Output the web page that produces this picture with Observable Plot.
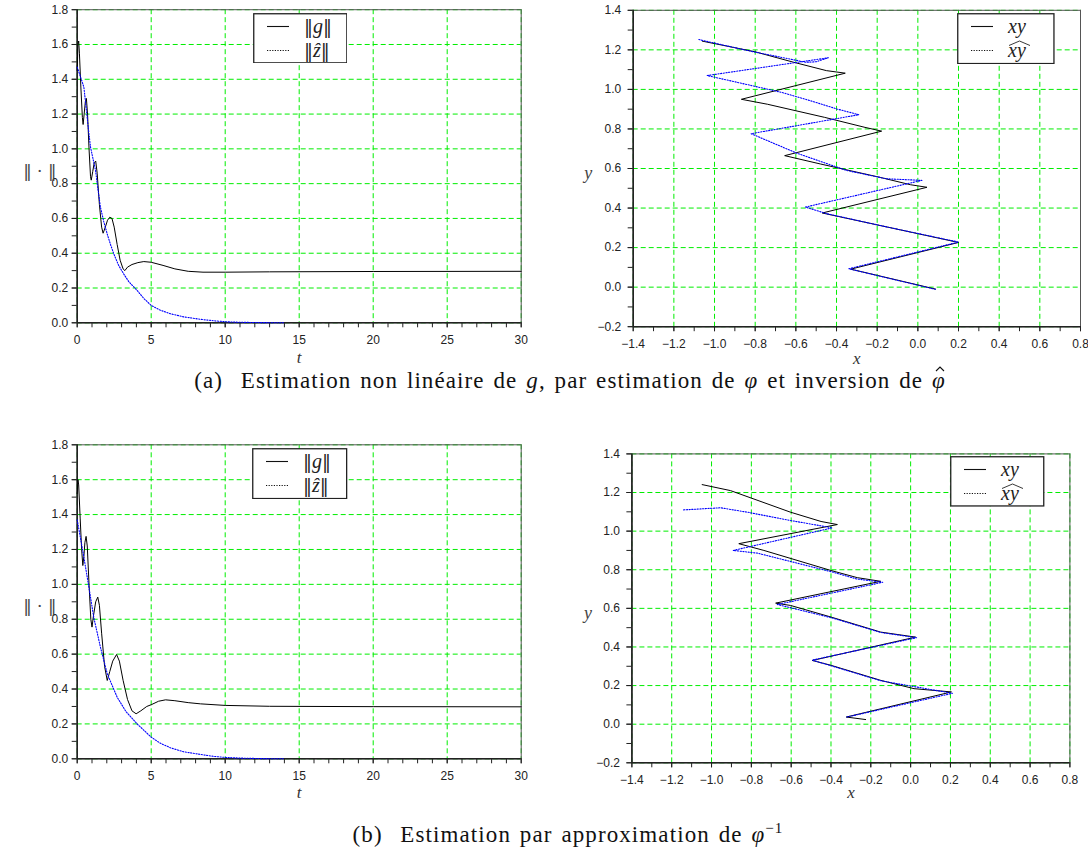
<!DOCTYPE html>
<html><head><meta charset="utf-8">
<script src="https://cdn.jsdelivr.net/npm/d3@7"></script>
<script src="https://cdn.jsdelivr.net/npm/@observablehq/plot@0.6"></script>
<style>
body{margin:0;background:#fff}
#fig{position:relative;width:1088px;height:851px;overflow:hidden;background:#fff}
#fig > svg, #fig > div{position:absolute}
.cap{font-family:"Liberation Serif","DejaVu Serif",serif;font-size:23px;letter-spacing:1.1px;word-spacing:2px;color:#111;width:1088px;text-align:center;line-height:26px;white-space:nowrap}
.cap i{font-style:italic}
.hat{position:relative;display:inline-block}
.hat > svg{position:absolute;left:3px;top:-2px}
</style></head><body><div id="fig"></div>
<script>
// ---- (a) nonlinear estimation: norms over time ----
const tG_a = [0,0.05,0.1,0.15,0.25,0.35,0.4,0.47,0.55,0.62,0.7,0.8,0.9,0.95,1.05,1.15,1.25,1.35,1.5,1.65,1.75,1.9,2.05,2.2,2.35,2.5,2.7,2.9,3.1,3.22,3.4,3.7,4.1,4.5,5.0,5.8,6.6,7.5,8.5,10,13,20,30];
const g_a  = [1.45,1.6,1.62,1.55,1.35,1.18,1.14,1.2,1.27,1.29,1.2,1.0,0.84,0.82,0.87,0.92,0.93,0.86,0.68,0.55,0.515,0.55,0.59,0.607,0.6,0.55,0.45,0.36,0.31,0.30,0.32,0.335,0.346,0.352,0.348,0.33,0.31,0.296,0.291,0.291,0.293,0.295,0.296];
const tZ_a = [0,0.2,0.45,0.6,0.75,0.9,1.05,1.24,1.4,1.57,1.8,2.03,2.25,2.47,2.8,3.15,3.5,4.05,4.5,5,5.6,6.3,7.2,8.33,9.2,10,11,12.5,14];
const z_a  = [1.47,1.42,1.355,1.24,1.12,1.01,0.95,0.876,0.77,0.665,0.58,0.51,0.45,0.397,0.33,0.28,0.235,0.186,0.14,0.10,0.073,0.052,0.034,0.02,0.012,0.006,0.003,0.001,0];

// ---- (a) trajectories in the plane ----
const xyX_a    = [-1.06,-0.8,-0.61,-0.45,-0.357,-0.868,-0.74,-0.46,-0.26,-0.178,-0.655,-0.48,-0.185,-0.037,0.045,-0.47,0.2,-0.33,0.087];
const xyY_a    = [1.244,1.19,1.137,1.095,1.082,0.95,0.925,0.859,0.808,0.789,0.665,0.623,0.555,0.518,0.505,0.375,0.226,0.091,-0.01];
const xyHatX_a = [-1.077,-0.84,-0.55,-0.5,-0.44,-1.036,-0.67,-0.529,-0.398,-0.29,-0.82,-0.594,-0.35,-0.155,0.02,-0.553,-0.45,-0.178,0.2,-0.34,0.09];
const xyHatY_a = [1.252,1.197,1.137,1.14,1.16,1.07,0.985,0.943,0.901,0.872,0.776,0.677,0.59,0.548,0.54,0.405,0.372,0.31,0.228,0.093,-0.012];

// ---- (b) estimation through an approximate inverse: norms ----
const tG_b = [0,0.05,0.1,0.2,0.3,0.38,0.45,0.52,0.6,0.68,0.8,0.92,1.0,1.1,1.25,1.39,1.5,1.65,1.85,2.03,2.2,2.4,2.66,2.85,3.1,3.4,3.7,3.98,4.3,4.7,5.0,5.5,5.97,6.6,7.5,8.33,10,13,20,30];
const g_b  = [1.52,1.6,1.57,1.38,1.2,1.108,1.16,1.24,1.275,1.22,1.0,0.8,0.755,0.82,0.9,0.927,0.88,0.72,0.53,0.449,0.5,0.56,0.598,0.56,0.45,0.34,0.275,0.258,0.275,0.3,0.31,0.33,0.338,0.333,0.322,0.315,0.306,0.301,0.299,0.298];
const tZ_b = [0,0.45,0.79,1.12,1.57,2.03,2.7,3.3,4.05,5,5.6,6.3,7.2,8.33,9.2,10,11,12.5,14];
const z_b  = [1.37,1.156,0.984,0.81,0.64,0.487,0.353,0.27,0.20,0.124,0.09,0.063,0.04,0.025,0.014,0.008,0.004,0.001,0];

// ---- (b) trajectories in the plane ----
const xyX_b    = [-1.047,-0.905,-0.603,-0.45,-0.368,-0.863,-0.737,-0.40,-0.268,-0.15,-0.678,-0.603,-0.40,-0.15,0.025,-0.494,-0.40,-0.15,0.017,0.205,-0.323,-0.226];
const xyY_b    = [1.241,1.21,1.098,1.05,1.034,0.935,0.90,0.796,0.759,0.74,0.627,0.615,0.555,0.477,0.451,0.33,0.305,0.227,0.184,0.167,0.037,0.024];
const xyHatX_b = [-1.14,-0.955,-0.82,-0.603,-0.393,-0.891,-0.77,-0.40,-0.27,-0.14,-0.67,-0.40,-0.15,0.03,-0.494,-0.15,0.21,-0.32];
const xyHatY_b = [1.11,1.121,1.098,1.055,1.017,0.90,0.886,0.79,0.752,0.735,0.62,0.552,0.475,0.448,0.332,0.225,0.16,0.037];

// ---- axes ----
const tMajor = [0,5,10,15,20,25,30];
const normMajor = [0,0.2,0.4,0.6,0.8,1.0,1.2,1.4,1.6,1.8];
const xMajor = [-1.4,-1.2,-1.0,-0.8,-0.6,-0.4,-0.2,0.0,0.2,0.4,0.6,0.8];
const yMajor = [-0.2,0.0,0.2,0.4,0.6,0.8,1.0,1.2,1.4];
const tMinor = d3.range(0, 31);
const normMinor = d3.range(0, 19).map(i => i / 10);
const xMinor = d3.range(-14, 9).map(i => i / 10);
const yMinor = d3.range(-2, 15).map(i => i / 10);

const fig = document.getElementById("fig");
const INK = "#222", GRID = "#00ee00", BLUE = "#0000ff";
const SERIF = "'Liberation Serif','DejaVu Serif',serif";
const BARS = "'DejaVu Serif',serif";
const zip = (xs, ys) => xs.map((x, i) => ({x, y: ys[i]}));

function place(el, left, top) {
  el.style.left = left + "px";
  el.style.top = top + "px";
  fig.appendChild(el);
}

function panel(o) {
  return Plot.plot({
    width: o.width, height: o.height,
    marginTop: o.m[0], marginRight: o.m[1], marginBottom: o.m[2], marginLeft: o.m[3],
    x: {domain: o.xDomain, label: null},
    y: {domain: o.yDomain, label: null},
    style: {fontFamily: "'Liberation Sans',Arial,sans-serif", fontSize: "12px", color: INK, background: "transparent", overflow: "visible"},
    marks: [
      Plot.gridX({ticks: o.xMajor, stroke: GRID, strokeOpacity: 1, strokeDasharray: "5,3"}),
      Plot.gridY({ticks: o.yMajor, stroke: GRID, strokeOpacity: 1, strokeDasharray: "5,3"}),
      Plot.frame({stroke: "#555", strokeWidth: 1}),
      Plot.ruleX([o.xDomain[0]], {stroke: INK, strokeWidth: 1.6}),
      Plot.ruleY([o.yDomain[0]], {stroke: INK, strokeWidth: 1.6}),
      Plot.axisX({ticks: o.xMinor, tickSize: 5, tickFormat: () => ""}),
      Plot.axisY({ticks: o.yMinor, tickSize: 5, tickFormat: () => ""}),
      Plot.axisX({ticks: o.xMajor, tickSize: 5, tickPadding: 8, tickFormat: o.xFormat}),
      Plot.axisY({ticks: o.yMajor, tickSize: 5, tickPadding: o.yPad, tickFormat: d3.format(".1f")}),
      Plot.line(o.solid, {x: "x", y: "y", stroke: "black", strokeWidth: 1}),
      Plot.line(o.dotted, {x: "x", y: "y", stroke: BLUE, strokeWidth: 1.1, strokeDasharray: "1.2,1.5"}),
      Plot.text([o.xLabel], {text: d => d, frameAnchor: "bottom", dy: o.xLabelDy, fontFamily: SERIF, fontStyle: "italic", fontSize: 17, fill: "#333"}),
      Plot.text([o.yLabel], {text: d => d, frameAnchor: "left", dx: o.yLabelDx, dy: 5, fontFamily: o.yFont, fontStyle: o.yStyle, fontSize: o.ySize, fill: "#444"})
    ]
  });
}

function legend(left, top, w, h, labels, hatted) {
  const svg = d3.create("svg").attr("width", w).attr("height", h);
  svg.append("rect").attr("x", 0.75).attr("y", 0.75).attr("width", w - 1.5).attr("height", h - 1.5)
    .attr("fill", "#fff").attr("stroke", INK).attr("stroke-width", 1.3);
  const rows = [13.5, 37.5];
  rows.forEach((y, i) => {
    svg.append("line").attr("x1", 14).attr("x2", 36).attr("y1", y).attr("y2", y)
      .attr("stroke", "#111").attr("stroke-width", 1.1)
      .attr("stroke-dasharray", i ? "1.2,1.4" : null);
  });
  labels.forEach((parts, i) => {
    const t = svg.append("text").attr("x", 51).attr("y", rows[i] + 6.5)
      .attr("font-size", 20).attr("fill", "#222");
    parts.forEach(([s, style]) => t.append("tspan")
      .attr("font-style", style)
      .attr("font-family", style === "normal" ? BARS : SERIF)
      .attr("font-size", style === "normal" ? 18 : 20)
      .text(s));
  });
  if (hatted) {
    const y = rows[1] - 5;
    svg.append("path").attr("d", `M52,${y} L62.5,${y - 4.5} L73,${y}`)
      .attr("fill", "none").attr("stroke", "#222").attr("stroke-width", 0.9);
  }
  place(svg.node(), left, top);
}

// (a) norms
place(panel({
  width: 540, height: 370, m: [9.2, 19.3, 47.7, 76.7],
  xDomain: [0, 30], yDomain: [0, 1.8],
  xMajor: tMajor, xMinor: tMinor, yMajor: normMajor, yMinor: normMinor,
  xFormat: d3.format("d"), yPad: 4,
  solid: zip(tG_a, g_a), dotted: zip(tZ_a, z_a),
  xLabel: "t", xLabelDy: 40, yLabel: "‖ · ‖", yLabelDx: -54, yStyle: "normal", yFont: BARS, ySize: 17
}), 0, 0);

// (a) plane
place(panel({
  width: 543, height: 370, m: [9.8, 8, 43.8, 87.7],
  xDomain: [-1.4, 0.8], yDomain: [-0.2, 1.4],
  xMajor, xMinor, yMajor, yMinor,
  xFormat: d3.format(".1f"), yPad: 7,
  solid: zip(xyX_a, xyY_a), dotted: zip(xyHatX_a, xyHatY_a),
  xLabel: "x", xLabelDy: 37, yLabel: "y", yLabelDx: -49, yStyle: "italic", yFont: SERIF, ySize: 18
}), 545, 0);

// (b) norms
place(panel({
  width: 540, height: 410, m: [44.3, 19.3, 51.7, 76.7],
  xDomain: [0, 30], yDomain: [0, 1.8],
  xMajor: tMajor, xMinor: tMinor, yMajor: normMajor, yMinor: normMinor,
  xFormat: d3.format("d"), yPad: 4,
  solid: zip(tG_b, g_b), dotted: zip(tZ_b, z_b),
  xLabel: "t", xLabelDy: 39, yLabel: "‖ · ‖", yLabelDx: -54, yStyle: "normal", yFont: BARS, ySize: 17
}), 0, 400);

// (b) plane
place(panel({
  width: 543, height: 410, m: [53.4, 18.6, 47.7, 86.4],
  xDomain: [-1.4, 0.8], yDomain: [-0.2, 1.4],
  xMajor, xMinor, yMajor, yMinor,
  xFormat: d3.format(".1f"), yPad: 7,
  solid: zip(xyX_b, xyY_b), dotted: zip(xyHatX_b, xyHatY_b),
  xLabel: "x", xLabelDy: 35, yLabel: "y", yLabelDx: -48, yStyle: "italic", yFont: SERIF, ySize: 18
}), 545, 400);

// legends
const normLabels = [[["‖", "normal"], ["g", "italic"], ["‖", "normal"]], [["‖", "normal"], ["ẑ", "italic"], ["‖", "normal"]]];
const xyLabels = [[["xy", "italic"]], [["xy", "italic"]]];
legend(252.7, 12.7, 94.6, 50.6, normLabels, false);
legend(957.3, 12.7, 97.7, 51.3, xyLabels, true);
legend(252.3, 447.7, 95.4, 51.3, normLabels, false);
legend(950, 456, 94.5, 50.7, xyLabels, true);

// captions
const hatSvg = "<svg width='10' height='6' viewBox='0 0 10 6'><path d='M1,5 L5,1 L9,5' fill='none' stroke='#111' stroke-width='1.1'/></svg>";
const capA = document.createElement("div");
capA.className = "cap";
capA.innerHTML = "(a)&nbsp; Estimation non linéaire de <i>g</i>, par estimation de <i>φ</i> et inversion de <span class='hat'><i>φ</i>" + hatSvg + "</span>";
place(capA, 26, 368);
const capB = document.createElement("div");
capB.className = "cap";
capB.innerHTML = "(b)&nbsp; Estimation par approximation de <i>φ</i><sup style='font-size:15px'>−1</sup>";
place(capB, 24, 815);
</script></body></html>
